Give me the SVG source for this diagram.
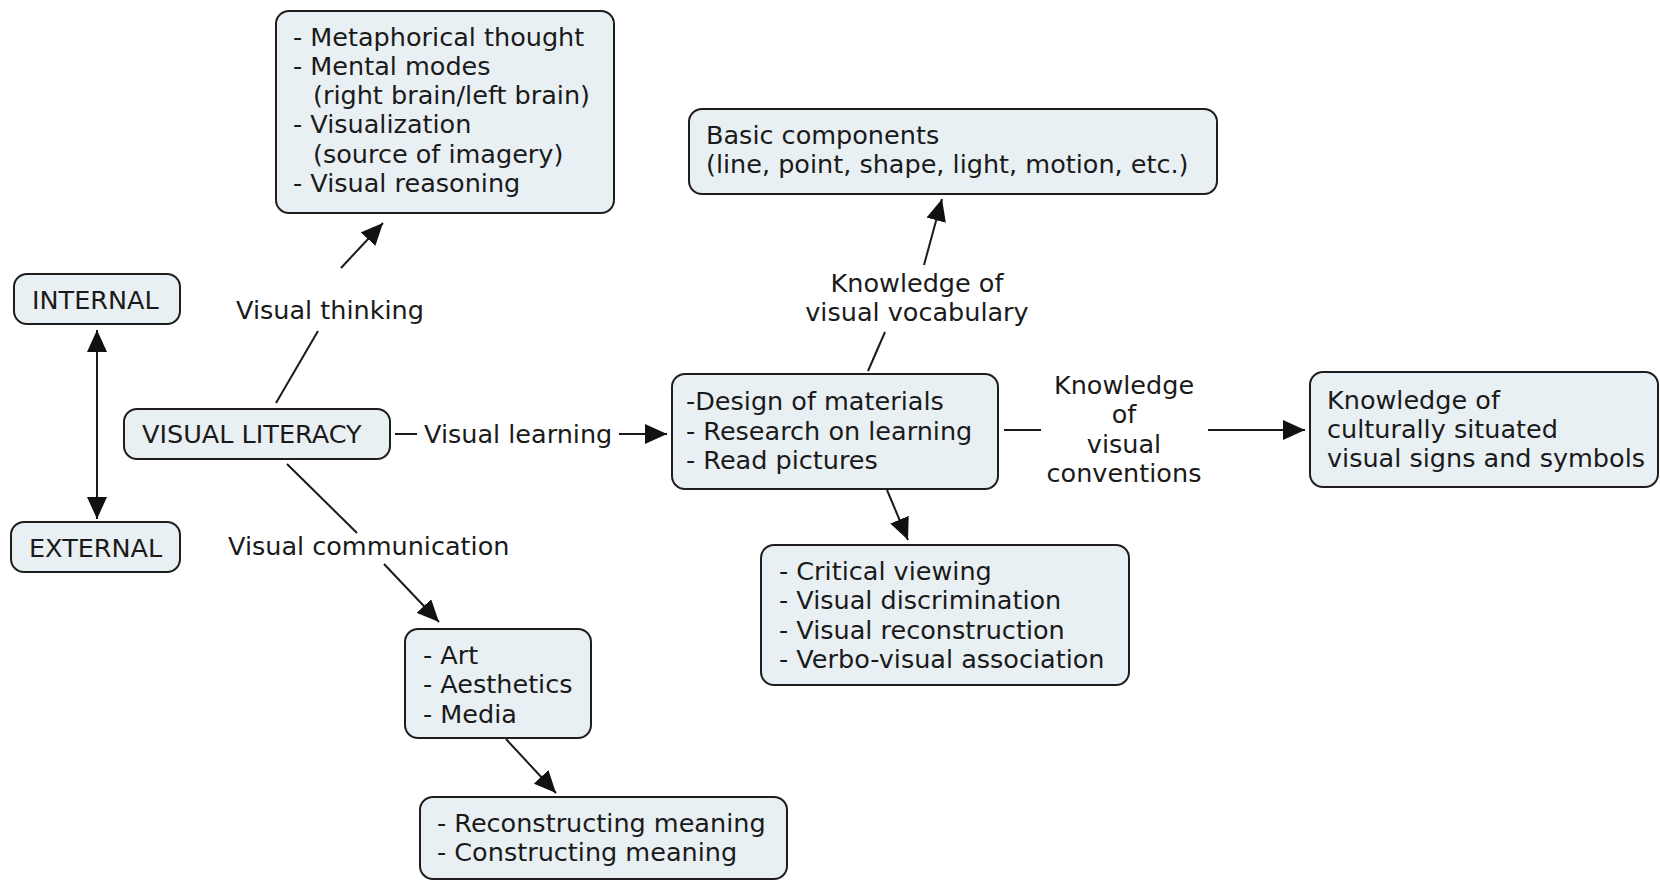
<svg xmlns="http://www.w3.org/2000/svg" width="1660" height="880" viewBox="0 0 1660 880">
<style>
.box{fill:#e9f0f3;stroke:#1e1e1e;stroke-width:2}
text{font-family:"DejaVu Sans","Verdana",sans-serif;font-size:25.5px;fill:#1a1a1a}
.c{text-anchor:middle}
.ln{stroke:#1a1a1a;stroke-width:2;fill:none}
</style>
<defs>
<marker id="ah" markerUnits="userSpaceOnUse" markerWidth="24" markerHeight="20" refX="22" refY="10" orient="auto-start-reverse">
<path d="M0,0 L22,10 L0,20 z" fill="#111"/>
</marker>
</defs>
<rect width="1660" height="880" fill="#fff"/>
<g id="connectors">
<line class="ln" x1="97" y1="330" x2="97" y2="519" marker-start="url(#ah)" marker-end="url(#ah)"/>
<line class="ln" x1="276" y1="403" x2="318" y2="331"/>
<line class="ln" x1="341" y1="268" x2="383" y2="223" marker-end="url(#ah)"/>
<line class="ln" x1="395" y1="434" x2="417" y2="434"/>
<line class="ln" x1="619" y1="434" x2="667" y2="434" marker-end="url(#ah)"/>
<line class="ln" x1="287" y1="464" x2="357" y2="533"/>
<line class="ln" x1="384" y1="564" x2="439" y2="622" marker-end="url(#ah)"/>
<line class="ln" x1="506" y1="739" x2="556" y2="793" marker-end="url(#ah)"/>
<line class="ln" x1="868" y1="371" x2="885" y2="332"/>
<line class="ln" x1="924" y1="265" x2="942" y2="199" marker-end="url(#ah)"/>
<line class="ln" x1="1004" y1="430" x2="1041" y2="430"/>
<line class="ln" x1="1208" y1="430" x2="1305" y2="430" marker-end="url(#ah)"/>
<line class="ln" x1="887" y1="490" x2="908" y2="540" marker-end="url(#ah)"/>
</g>
<g id="labels">
<text x="236" y="319">Visual thinking</text>
<text x="424" y="443">Visual learning</text>
<text x="228" y="555">Visual communication</text>
<text class="c" x="917" y="292">Knowledge of</text>
<text class="c" x="917" y="321">visual vocabulary</text>
<text class="c" x="1124" y="394">Knowledge</text>
<text class="c" x="1124" y="423">of</text>
<text class="c" x="1124" y="453">visual</text>
<text class="c" x="1124" y="482">conventions</text>
</g>
<g id="n-thinking">
<rect class="box" x="276" y="11" width="338" height="202" rx="13"/>
<text x="293" y="46">- Metaphorical thought</text>
<text x="293" y="75">- Mental modes</text>
<text x="313" y="104">(right brain/left brain)</text>
<text x="293" y="133">- Visualization</text>
<text x="313" y="163">(source of imagery)</text>
<text x="293" y="192">- Visual reasoning</text>
</g>
<g id="n-internal">
<rect class="box" x="14" y="274" width="166" height="50" rx="13"/>
<text x="32" y="309">INTERNAL</text>
</g>
<g id="n-external">
<rect class="box" x="11" y="522" width="169" height="50" rx="13"/>
<text x="29" y="557">EXTERNAL</text>
</g>
<g id="n-vl">
<rect class="box" x="124" y="409" width="266" height="50" rx="13"/>
<text x="142" y="443">VISUAL LITERACY</text>
</g>
<g id="n-basic">
<rect class="box" x="689" y="109" width="528" height="85" rx="13"/>
<text x="706" y="144">Basic components</text>
<text x="706" y="173">(line, point, shape, light, motion, etc.)</text>
</g>
<g id="n-design">
<rect class="box" x="672" y="374" width="326" height="115" rx="13"/>
<text x="686" y="410">-Design of materials</text>
<text x="686" y="440">- Research on learning</text>
<text x="686" y="469">- Read pictures</text>
</g>
<g id="n-cultural">
<rect class="box" x="1310" y="372" width="348" height="115" rx="13"/>
<text x="1327" y="409">Knowledge of</text>
<text x="1327" y="438">culturally situated</text>
<text x="1327" y="467">visual signs and symbols</text>
</g>
<g id="n-critical">
<rect class="box" x="761" y="545" width="368" height="140" rx="13"/>
<text x="779" y="580">- Critical viewing</text>
<text x="779" y="609">- Visual discrimination</text>
<text x="779" y="639">- Visual reconstruction</text>
<text x="779" y="668">- Verbo-visual association</text>
</g>
<g id="n-art">
<rect class="box" x="405" y="629" width="186" height="109" rx="13"/>
<text x="423" y="664">- Art</text>
<text x="423" y="693">- Aesthetics</text>
<text x="423" y="723">- Media</text>
</g>
<g id="n-meaning">
<rect class="box" x="420" y="797" width="367" height="82" rx="13"/>
<text x="437" y="832">- Reconstructing meaning</text>
<text x="437" y="861">- Constructing meaning</text>
</g>
</svg>
